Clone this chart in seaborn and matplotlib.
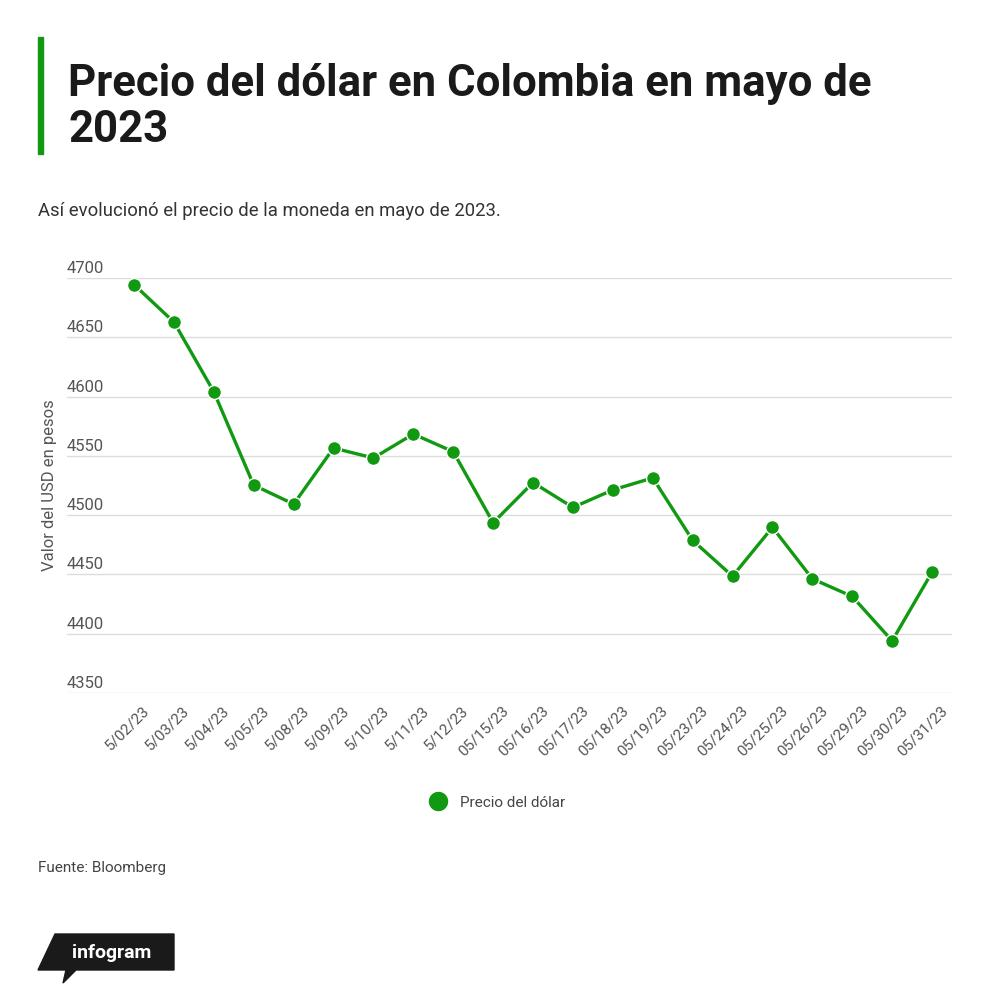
import numpy as np
import pandas as pd
import matplotlib
matplotlib.use("Agg")
import matplotlib.pyplot as plt
import matplotlib.transforms as mtransforms
from matplotlib.lines import Line2D
from matplotlib.patches import Rectangle, Polygon
import seaborn as sns

# Datos: precio del dólar en Colombia, mayo 2023
fechas = ["5/02/23", "5/03/23", "5/04/23", "5/05/23", "5/08/23", "5/09/23",
          "5/10/23", "5/11/23", "5/12/23", "05/15/23", "05/16/23", "05/17/23",
          "05/18/23", "05/19/23", "05/23/23", "05/24/23", "05/25/23", "05/26/23",
          "05/29/23", "05/30/23", "05/31/23"]
precios = [4694.4, 4662.8, 4604.0, 4525.3, 4509.3, 4556.6,
           4548.2, 4568.4, 4553.5, 4493.6, 4527.5, 4506.5,
           4521.3, 4531.4, 4478.8, 4448.5, 4489.7, 4446.3,
           4431.4, 4394.0, 4451.9]
y_ticks = [4350, 4400, 4450, 4500, 4550, 4600, 4650, 4700]

titulo = "Precio del dólar en Colombia en mayo de\n2023"
subtitulo = "Así evolucionó el precio de la moneda en mayo de 2023."
serie = "Precio del dólar"
eje_y = "Valor del USD en pesos"
fuente = "Fuente: Bloomberg"

verde = "#119a11"
gris = "#555555"

df = pd.DataFrame({"fecha": fechas, "precio": precios})

sns.set_style("white")
plt.rcParams["font.family"] = ["Roboto", "DejaVu Sans"]

W, H = 1000, 1003
fig = plt.figure(figsize=(W / 100, H / 100), dpi=100)
fig.patch.set_facecolor("white")

def fx(px):
    return px / W

def fy(py):
    return 1 - py / H

# ejes: gridlines de x=67 a 952, 4700 en y=279, 4350 en y=694
ax = fig.add_axes([fx(67), fy(694), fx(952) - fx(67), fy(279) - fy(694)])

sns.lineplot(data=df, x="fecha", y="precio", sort=False, ax=ax,
             color=verde, linewidth=2.4, marker="o", markersize=10,
             markeredgecolor="white", markeredgewidth=1.0, clip_on=False)

ax.set_ylim(4350, 4700)
ax.set_xlim(-1.68, len(fechas) - 0.5)
ax.set_yticks(y_ticks)
ax.yaxis.grid(True, color="#dcdcdc", linewidth=1)
ax.xaxis.grid(False)
for s in ax.spines.values():
    s.set_visible(False)
ax.set_xlabel("")
ax.set_ylabel("")
ax.tick_params(axis="y", length=0, labelleft=False)
ax.tick_params(axis="x", length=0, pad=7)

# etiquetas del eje y encima de las líneas de la cuadrícula
up = mtransforms.ScaledTranslation(0, 3 / 100, fig.dpi_scale_trans)
for t in y_ticks:
    ax.text(0.0, t, str(t), transform=ax.get_yaxis_transform() + up,
            ha="left", va="bottom", fontsize=12, color=gris)

ax.set_xticks(range(len(fechas)))
ax.set_xticklabels(fechas, rotation=45, ha="right", va="top",
                   rotation_mode="anchor", fontsize=11, color=gris)
offset = mtransforms.ScaledTranslation(8 / 100, 0, fig.dpi_scale_trans)
for lab in ax.get_xticklabels():
    lab.set_transform(lab.get_transform() + offset)

fig.text(fx(50), fy(485), eje_y, rotation=90, ha="center", va="center",
         fontsize=12, color=gris)

# título y barra verde
fig.patches.append(Rectangle((fx(38), fy(155)), fx(5), fy(38) - fy(155),
                             transform=fig.transFigure, color=verde))
fig.text(fx(68), fy(142), titulo, ha="left", va="baseline", fontsize=31.5,
         fontweight="bold", color="#1a1a1a", linespacing=1.12)
fig.text(fx(38), fy(216), subtitulo, ha="left", va="baseline", fontsize=13.3,
         color="#333333")

# leyenda
leg_handle = Line2D([], [], marker="o", linestyle="", color=verde,
                    markersize=15, markeredgecolor="white")
fig.legend([leg_handle], [serie], loc="center", frameon=False,
           bbox_to_anchor=(fx(494), fy(803)), fontsize=11,
           handletextpad=0.4, labelcolor="#444444")

fig.text(fx(38), fy(872), fuente, ha="left", va="baseline", fontsize=11,
         color="#444444")

# logo infogram
logo = [(55, 935), (174, 935), (174, 971), (76, 971), (63, 984),
        (66, 971), (38, 971)]
fig.patches.append(Polygon([(fx(x), fy(y)) for x, y in logo], closed=True,
                           transform=fig.transFigure, color="#1a1a1a"))
fig.text(fx(112), fy(953), "infogram", ha="center", va="center",
         fontsize=14, fontweight="bold", color="white")

fig.savefig("out.png", dpi=100, facecolor="white")
